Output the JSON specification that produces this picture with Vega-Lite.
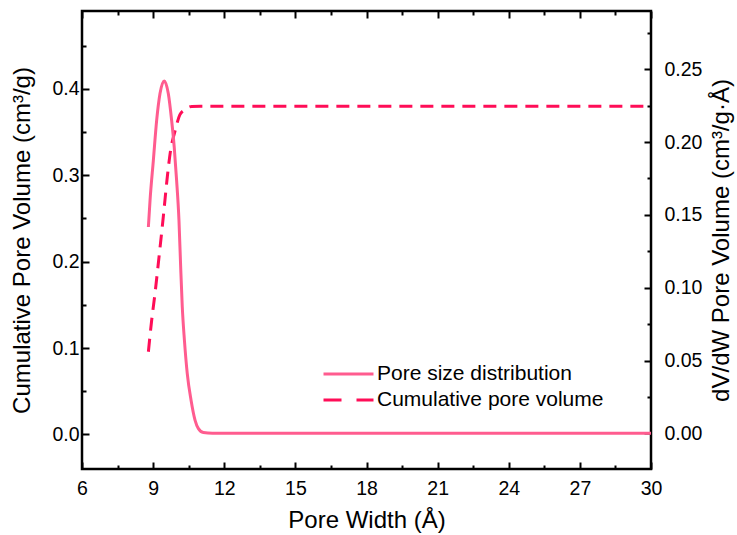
{
  "$schema": "https://vega.github.io/schema/vega-lite/v6.json",
  "width": 569,
  "height": 458,
  "autosize": "none",
  "padding": {"left": 82, "top": 11, "right": 86, "bottom": 66},
  "background": "white",
  "config": {
    "font": "Liberation Sans",
    "view": {"stroke": "#000", "strokeWidth": 2.5},
    "axis": {
      "domain": false,
      "grid": false,
      "labelFont": "Liberation Sans",
      "labelFontSize": 19.5,
      "labelColor": "#000",
      "titleFont": "Liberation Sans",
      "titleFontSize": 24,
      "titleFontWeight": "normal",
      "titleColor": "#000",
      "tickColor": "#000",
      "tickWidth": 2,
      "labelOverlap": false,
      "labelFlush": false
    },
    "legend": {
      "labelFont": "Liberation Sans",
      "labelFontSize": 21,
      "labelColor": "#000",
      "labelLimit": 0
    }
  },
  "data": {
    "values": [
      {"series": "Pore size distribution", "width": 8.80, "value": 0.1417},
      {"series": "Pore size distribution", "width": 8.87, "value": 0.1600},
      {"series": "Pore size distribution", "width": 9.01, "value": 0.1875},
      {"series": "Pore size distribution", "width": 9.15, "value": 0.2150},
      {"series": "Pore size distribution", "width": 9.29, "value": 0.2333},
      {"series": "Pore size distribution", "width": 9.47, "value": 0.2420},
      {"series": "Pore size distribution", "width": 9.64, "value": 0.2333},
      {"series": "Pore size distribution", "width": 9.78, "value": 0.2150},
      {"series": "Pore size distribution", "width": 9.89, "value": 0.1966},
      {"series": "Pore size distribution", "width": 9.99, "value": 0.1738},
      {"series": "Pore size distribution", "width": 10.09, "value": 0.1463},
      {"series": "Pore size distribution", "width": 10.16, "value": 0.1150},
      {"series": "Pore size distribution", "width": 10.23, "value": 0.0867},
      {"series": "Pore size distribution", "width": 10.32, "value": 0.0639},
      {"series": "Pore size distribution", "width": 10.44, "value": 0.0410},
      {"series": "Pore size distribution", "width": 10.60, "value": 0.0227},
      {"series": "Pore size distribution", "width": 10.77, "value": 0.0089},
      {"series": "Pore size distribution", "width": 10.91, "value": 0.0032},
      {"series": "Pore size distribution", "width": 11.12, "value": 0.0005},
      {"series": "Pore size distribution", "width": 11.50, "value": 0.0},
      {"series": "Pore size distribution", "width": 15.00, "value": 0.0},
      {"series": "Pore size distribution", "width": 30.00, "value": 0.0},
      {"series": "Cumulative pore volume", "width": 8.80, "value": 0.0957},
      {"series": "Cumulative pore volume", "width": 8.94, "value": 0.1324},
      {"series": "Cumulative pore volume", "width": 9.08, "value": 0.1634},
      {"series": "Cumulative pore volume", "width": 9.22, "value": 0.1981},
      {"series": "Cumulative pore volume", "width": 9.43, "value": 0.2521},
      {"series": "Cumulative pore volume", "width": 9.60, "value": 0.2985},
      {"series": "Cumulative pore volume", "width": 9.74, "value": 0.3294},
      {"series": "Cumulative pore volume", "width": 9.92, "value": 0.3506},
      {"series": "Cumulative pore volume", "width": 10.13, "value": 0.3700},
      {"series": "Cumulative pore volume", "width": 10.34, "value": 0.3758},
      {"series": "Cumulative pore volume", "width": 10.63, "value": 0.3796},
      {"series": "Cumulative pore volume", "width": 11.00, "value": 0.3797},
      {"series": "Cumulative pore volume", "width": 15.00, "value": 0.3797},
      {"series": "Cumulative pore volume", "width": 30.00, "value": 0.3797}
    ]
  },
  "layer": [
    {
      "transform": [{"filter": "datum.series === 'Cumulative pore volume'"}],
      "mark": {"type": "line", "strokeWidth": 3, "interpolate": "monotone", "strokeDash": [13, 8]},
      "encoding": {
        "x": {
          "field": "width",
          "type": "quantitative",
          "scale": {"domain": [6, 30], "nice": false, "zero": false},
          "axis": {
            "orient": "bottom",
            "title": "Pore Width (Å)",
            "values": [6, 7.5, 9, 10.5, 12, 13.5, 15, 16.5, 18, 19.5, 21, 22.5, 24, 25.5, 27, 28.5, 30],
            "tickSize": {"condition": {"test": "datum.value % 3 === 0", "value": -7}, "value": -4},
            "labelExpr": "datum.value % 3 === 0 ? datum.label : ''",
            "labelPadding": 17,
            "titlePadding": 8
          }
        },
        "y": {
          "field": "value",
          "type": "quantitative",
          "scale": {"domain": [-0.04, 0.49], "nice": false, "zero": false},
          "axis": {
            "orient": "left",
            "title": "Cumulative Pore Volume (cm³/g)",
            "values": [0, 0.05, 0.1, 0.15, 0.2, 0.25, 0.3, 0.35, 0.4, 0.45],
            "format": ".1f",
            "tickSize": {"condition": {"test": "abs(datum.value * 10 - round(datum.value * 10)) < 0.000001", "value": -7}, "value": -4},
            "labelExpr": "abs(datum.value * 10 - round(datum.value * 10)) < 0.000001 ? datum.label : ''",
            "labelPadding": 10,
            "titlePadding": 17
          }
        },
        "color": {
          "field": "series",
          "type": "nominal",
          "scale": {"domain": ["Pore size distribution", "Cumulative pore volume"], "range": ["#ff5c8f", "#ff0d57"]},
          "legend": {
            "orient": "none",
            "legendX": 252.5,
            "legendY": 349,
            "title": null,
            "symbolType": "M-2,0H2",
            "symbolSize": 625,
            "symbolStrokeWidth": 3,
            "labelOffset": 14.5,
            "rowPadding": 2,
            "encode": {
              "symbols": {
                "update": {
                  "strokeDash": {"signal": "datum.value === 'Cumulative pore volume' ? [18, 15] : [1, 0]"}
                }
              }
            }
          }
        }
      }
    },
    {
      "transform": [{"filter": "datum.series === 'Pore size distribution'"}],
      "mark": {"type": "line", "strokeWidth": 3, "interpolate": "monotone"},
      "encoding": {
        "x": {
          "field": "width",
          "type": "quantitative",
          "scale": {"domain": [6, 30], "nice": false, "zero": false},
          "axis": {
            "orient": "top",
            "title": null,
            "labels": false,
            "values": [6, 7.5, 9, 10.5, 12, 13.5, 15, 16.5, 18, 19.5, 21, 22.5, 24, 25.5, 27, 28.5, 30],
            "tickSize": {"condition": {"test": "datum.value % 3 === 0", "value": -7}, "value": -4}
          }
        },
        "y": {
          "field": "value",
          "type": "quantitative",
          "scale": {"domain": [-0.0245, 0.29], "nice": false, "zero": false},
          "axis": {
            "orient": "right",
            "title": "dV/dW Pore Volume (cm³/g·Å)",
            "titleAngle": -90,
            "titleBaseline": "top",
            "values": [0, 0.025, 0.05, 0.075, 0.1, 0.125, 0.15, 0.175, 0.2, 0.225, 0.25, 0.275],
            "format": ".2f",
            "tickSize": {"condition": {"test": "abs(datum.value * 20 - round(datum.value * 20)) < 0.000001", "value": -7}, "value": -4},
            "labelExpr": "abs(datum.value * 20 - round(datum.value * 20)) < 0.000001 ? datum.label : ''",
            "labelPadding": 20,
            "titlePadding": 8
          }
        },
        "color": {"field": "series", "type": "nominal"}
      }
    }
  ],
  "resolve": {
    "scale": {"y": "independent"},
    "axis": {"x": "independent", "y": "independent"}
  }
}
